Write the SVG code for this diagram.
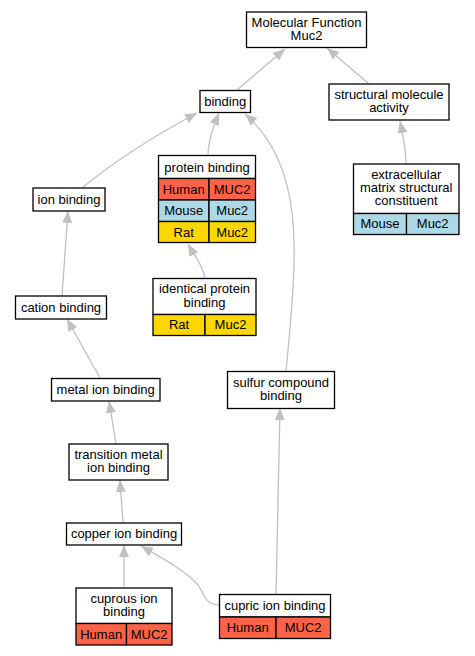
<svg xmlns="http://www.w3.org/2000/svg" width="475" height="656" viewBox="0 0 475 656">
<style>
text{font-family:"Liberation Sans",Arial,sans-serif;font-size:13px;fill:#000;text-anchor:middle}
.n{fill:#fff;stroke:#000;stroke-width:1.3}
.c{stroke:#000;stroke-width:1.3}
.h{fill:#ff6347}
.m{fill:#add8e6}
.r{fill:#ffd700}
.e{fill:none;stroke:#c0c0c0;stroke-width:1.3;marker-end:url(#a)}
</style>
<defs>
<marker id="a" viewBox="0 0 12 10" markerWidth="12" markerHeight="10" refX="12" refY="5" orient="auto" markerUnits="userSpaceOnUse">
<path d="M0,0 L12,5 L0,10 z" fill="#c0c0c0"/>
</marker>
</defs>
<rect width="475" height="656" fill="#fff"/>
<g id="edges">
<path class="e" d="M237,90 L285,49"/>
<path class="e" d="M369,84 L327,48"/>
<path class="e" d="M406,164 C406,150 403,135 400,121"/>
<path class="e" d="M208,155 C208,140 214,125 219,113"/>
<path class="e" d="M82,188 C110,165 150,138 197,113"/>
<path class="e" d="M286,372 C295,270 310,170 245,114"/>
<path class="e" d="M205,278 C203,265 194,255 188,244"/>
<path class="e" d="M62,296 L68,211"/>
<path class="e" d="M100,378 L67,319"/>
<path class="e" d="M116,444 L109,401"/>
<path class="e" d="M123,523 L120,480"/>
<path class="e" d="M124,588 L124,545"/>
<path class="e" d="M220,605 C205,605 205,595 198,585 C185,570 160,557 141,546"/>
<path class="e" d="M276,594 L280,408"/>
</g>
<g id="mf">
<rect class="n" x="246.5" y="12" width="120" height="35.5"/>
<text x="306.5" y="26.5">Molecular Function</text>
<text x="306.5" y="40">Muc2</text>
</g>
<g id="structural">
<rect class="n" x="329" y="84" width="120" height="36"/>
<text x="389" y="98.5">structural molecule</text>
<text x="389" y="112">activity</text>
</g>
<g id="ecm">
<rect class="n" x="353.5" y="164" width="105.5" height="49.5"/>
<text x="406.2" y="178.5">extracellular</text>
<text x="406.2" y="191.5">matrix structural</text>
<text x="406.2" y="204.5">constituent</text>
<rect class="m c" x="353.5" y="213.5" width="53" height="21"/>
<rect class="m c" x="406.5" y="213.5" width="52.5" height="21"/>
<text x="380" y="228">Mouse</text>
<text x="432.7" y="228">Muc2</text>
</g>
<g id="binding">
<rect class="n" x="200" y="90.5" width="50.5" height="22"/>
<text x="225.2" y="105.5">binding</text>
</g>
<g id="protein">
<rect class="n" x="158.5" y="155.5" width="97" height="23"/>
<text x="207" y="171.5">protein binding</text>
<rect class="h c" x="158.5" y="178.5" width="50.5" height="21.5"/>
<rect class="h c" x="209" y="178.5" width="46.5" height="21.5"/>
<rect class="m c" x="158.5" y="200" width="50.5" height="21.5"/>
<rect class="m c" x="209" y="200" width="46.5" height="21.5"/>
<rect class="r c" x="158.5" y="221.5" width="50.5" height="21"/>
<rect class="r c" x="209" y="221.5" width="46.5" height="21"/>
<text x="183.7" y="193.5">Human</text>
<text x="232.2" y="193.5">MUC2</text>
<text x="183.7" y="215">Mouse</text>
<text x="232.2" y="215">Muc2</text>
<text x="183.7" y="236.5">Rat</text>
<text x="232.2" y="236.5">Muc2</text>
</g>
<g id="ion">
<rect class="n" x="33" y="188" width="72" height="23"/>
<text x="69" y="203.5">ion binding</text>
</g>
<g id="cation">
<rect class="n" x="15.5" y="296" width="91" height="23"/>
<text x="61" y="311.5">cation binding</text>
</g>
<g id="identical">
<rect class="n" x="153" y="278.5" width="103" height="36"/>
<text x="204.5" y="293">identical protein</text>
<text x="204.5" y="306.5">binding</text>
<rect class="r c" x="153" y="314.5" width="52" height="21"/>
<rect class="r c" x="205" y="314.5" width="51" height="21"/>
<text x="179" y="329">Rat</text>
<text x="230.5" y="329">Muc2</text>
</g>
<g id="metal">
<rect class="n" x="51.5" y="378.5" width="108.5" height="22.5"/>
<text x="105.7" y="394">metal ion binding</text>
</g>
<g id="sulfur">
<rect class="n" x="227.5" y="371.5" width="107" height="37"/>
<text x="281" y="386.5">sulfur compound</text>
<text x="281" y="400">binding</text>
</g>
<g id="transition">
<rect class="n" x="69" y="444" width="99" height="36"/>
<text x="118.5" y="458.5">transition metal</text>
<text x="118.5" y="472">ion binding</text>
</g>
<g id="copper">
<rect class="n" x="66.5" y="523" width="115" height="22"/>
<text x="124" y="538">copper ion binding</text>
</g>
<g id="cuprous">
<rect class="n" x="76" y="588" width="96" height="35.5"/>
<text x="124" y="602.5">cuprous ion</text>
<text x="124" y="615.5">binding</text>
<rect class="h c" x="76" y="623.5" width="50.5" height="21.5"/>
<rect class="h c" x="126.5" y="623.5" width="45.5" height="21.5"/>
<text x="101.2" y="638.5">Human</text>
<text x="149.2" y="638.5">MUC2</text>
</g>
<g id="cupric">
<rect class="n" x="219.5" y="594.5" width="111" height="22.5"/>
<text x="275" y="610">cupric ion binding</text>
<rect class="h c" x="219.5" y="617" width="56.5" height="21.5"/>
<rect class="h c" x="276" y="617" width="54.5" height="21.5"/>
<text x="247.7" y="632">Human</text>
<text x="303.2" y="632">MUC2</text>
</g>
</svg>
